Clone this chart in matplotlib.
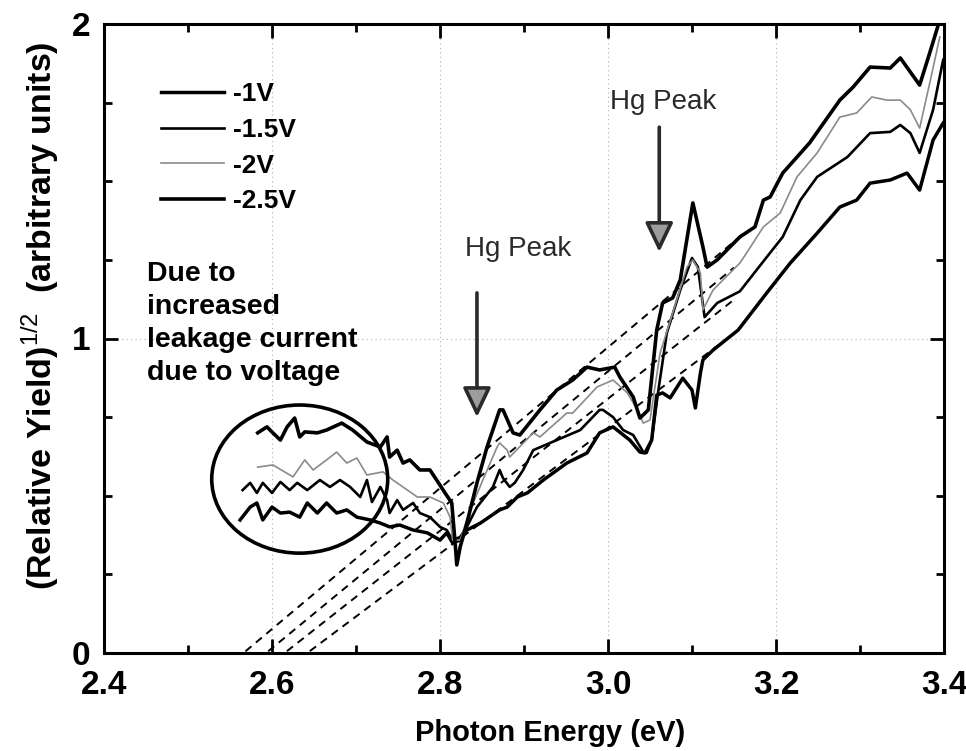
import matplotlib
matplotlib.use("Agg")
import numpy as np
import matplotlib.pyplot as plt
from matplotlib.patches import Ellipse
from matplotlib.lines import Line2D
from matplotlib.ticker import MultipleLocator, FormatStrFormatter

plt.rcParams['font.family'] = ['Liberation Sans', 'DejaVu Sans']
plt.rcParams['mathtext.fontset'] = 'custom'
plt.rcParams['mathtext.rm'] = 'Liberation Sans'
plt.rcParams['mathtext.bf'] = 'Liberation Sans:bold'

# ---- photoemission yield curves, (relative yield)^1/2 vs photon energy ----
e_m25 = [2.583, 2.594, 2.601, 2.610, 2.618, 2.627, 2.633, 2.639, 2.654, 2.665,
         2.683, 2.696, 2.713, 2.729, 2.737, 2.740, 2.749, 2.756, 2.764, 2.776,
         2.788, 2.796, 2.806, 2.814, 2.818, 2.820, 2.824, 2.832, 2.844, 2.856,
         2.871, 2.875, 2.887, 2.895, 2.919, 2.939, 2.958, 2.975, 2.990, 3.008,
         3.014, 3.030, 3.038, 3.048, 3.058, 3.065, 3.077, 3.086, 3.101, 3.113,
         3.118, 3.130, 3.157, 3.175, 3.185, 3.193, 3.208, 3.240, 3.276, 3.292,
         3.312, 3.336, 3.348, 3.360, 3.371, 3.383, 3.395]
y_m25 = [0.700, 0.719, 0.700, 0.677, 0.719, 0.747, 0.687, 0.703, 0.700, 0.709,
         0.731, 0.709, 0.671, 0.655, 0.687, 0.623, 0.645, 0.604, 0.614, 0.582,
         0.582, 0.550, 0.509, 0.477, 0.350, 0.280, 0.337, 0.413, 0.541, 0.655,
         0.773, 0.773, 0.700, 0.693, 0.773, 0.836, 0.868, 0.909, 0.900, 0.909,
         0.878, 0.814, 0.747, 0.773, 1.027, 1.113, 1.129, 1.186, 1.431, 1.291,
         1.227, 1.250, 1.323, 1.355, 1.440, 1.450, 1.526, 1.622, 1.758, 1.800,
         1.863, 1.860, 1.892, 1.847, 1.806, 1.908, 2.013]

e_m20 = [2.583, 2.601, 2.625, 2.639, 2.649, 2.665, 2.677, 2.689, 2.701, 2.713,
         2.732, 2.744, 2.773, 2.788, 2.804, 2.812, 2.815, 2.824, 2.836, 2.851,
         2.868, 2.871, 2.880, 2.883, 2.911, 2.919, 2.951, 2.958, 2.987, 3.006,
         3.023, 3.035, 3.042, 3.050, 3.062, 3.077, 3.094, 3.101, 3.110, 3.113,
         3.125, 3.157, 3.165, 3.185, 3.205, 3.225, 3.249, 3.276, 3.296, 3.314,
         3.332, 3.348, 3.360, 3.371, 3.383, 3.395]
y_m20 = [0.591, 0.598, 0.560, 0.614, 0.582, 0.614, 0.639, 0.604, 0.620, 0.566,
         0.576, 0.550, 0.496, 0.496, 0.477, 0.432, 0.359, 0.359, 0.455, 0.550,
         0.655, 0.668, 0.645, 0.623, 0.700, 0.687, 0.763, 0.763, 0.846, 0.868,
         0.827, 0.773, 0.731, 0.741, 0.954, 1.081, 1.227, 1.250, 1.208, 1.091,
         1.154, 1.240, 1.272, 1.355, 1.399, 1.514, 1.590, 1.704, 1.717, 1.768,
         1.758, 1.758, 1.727, 1.669, 1.812, 1.959]

e_m15 = [2.565, 2.574, 2.582, 2.589, 2.600, 2.610, 2.621, 2.630, 2.642, 2.657,
         2.669, 2.681, 2.693, 2.705, 2.713, 2.719, 2.729, 2.737, 2.740, 2.749,
         2.756, 2.768, 2.776, 2.788, 2.800, 2.808, 2.815, 2.824, 2.832, 2.844,
         2.863, 2.871, 2.875, 2.883, 2.889, 2.899, 2.911, 2.939, 2.967, 2.990,
         2.994, 3.006, 3.018, 3.030, 3.042, 3.046, 3.052, 3.060, 3.070, 3.086,
         3.100, 3.107, 3.115, 3.130, 3.157, 3.189, 3.208, 3.229, 3.249, 3.285,
         3.312, 3.336, 3.348, 3.360, 3.371, 3.387, 3.399]
y_m15 = [0.518, 0.541, 0.509, 0.541, 0.509, 0.544, 0.518, 0.541, 0.518, 0.550,
         0.528, 0.550, 0.528, 0.496, 0.550, 0.480, 0.528, 0.486, 0.445, 0.486,
         0.455, 0.477, 0.445, 0.432, 0.401, 0.391, 0.359, 0.369, 0.401, 0.464,
         0.528, 0.582, 0.556, 0.528, 0.541, 0.582, 0.645, 0.677, 0.709, 0.773,
         0.773, 0.750, 0.709, 0.693, 0.639, 0.636, 0.677, 0.836, 1.017, 1.154,
         1.256, 1.227, 1.068, 1.113, 1.150, 1.259, 1.323, 1.440, 1.514, 1.577,
         1.653, 1.657, 1.679, 1.653, 1.590, 1.727, 1.886]

e_m10 = [2.562, 2.574, 2.582, 2.589, 2.600, 2.610, 2.621, 2.633, 2.642, 2.654,
         2.665, 2.677, 2.689, 2.701, 2.717, 2.729, 2.740, 2.752, 2.768, 2.785,
         2.800, 2.808, 2.815, 2.824, 2.832, 2.848, 2.871, 2.880, 2.892, 2.904,
         2.923, 2.951, 2.975, 2.990, 3.006, 3.026, 3.038, 3.044, 3.052, 3.058,
         3.065, 3.074, 3.089, 3.100, 3.104, 3.110, 3.113, 3.125, 3.155, 3.189,
         3.217, 3.249, 3.276, 3.296, 3.312, 3.336, 3.356, 3.371, 3.387, 3.399]
y_m10 = [0.423, 0.464, 0.477, 0.423, 0.464, 0.445, 0.448, 0.432, 0.477, 0.445,
         0.477, 0.445, 0.455, 0.432, 0.423, 0.413, 0.401, 0.407, 0.391, 0.382,
         0.359, 0.382, 0.350, 0.359, 0.391, 0.413, 0.455, 0.464, 0.496, 0.509,
         0.550, 0.604, 0.636, 0.700, 0.719, 0.677, 0.639, 0.636, 0.677, 0.820,
         0.827, 0.811, 0.874, 0.836, 0.779, 0.890, 0.932, 0.963, 1.027, 1.145,
         1.240, 1.335, 1.418, 1.440, 1.494, 1.504, 1.526, 1.472, 1.631, 1.685]

# linear fits extrapolated to zero yield: threshold energy, slope, last energy
fit_x0 = [2.566, 2.593, 2.615, 2.642]
fit_slope = [2.24, 2.20, 2.10, 2.00]
fit_xend = [3.16, 3.15, 3.15, 3.15]

series_labels = ['-1V', '-1.5V', '-2V', '-2.5V']

fig = plt.figure(figsize=(9.66, 7.51), dpi=100)
ax = fig.add_axes([104 / 966, 1 - 653 / 751, 840 / 966, 629 / 751])

styles = {
    '-2.5V': dict(color='black', lw=2.6),
    '-2V': dict(color='#8a8a8a', lw=1.2),
    '-1.5V': dict(color='black', lw=1.9),
    '-1V': dict(color='black', lw=2.5),
}

ax.plot(e_m10, y_m10, **styles['-1V'], zorder=3)
ax.plot(e_m15, y_m15, **styles['-1.5V'], zorder=3)
ax.plot(e_m20, y_m20, **styles['-2V'], zorder=3)
ax.plot(e_m25, y_m25, **styles['-2.5V'], zorder=3)

for x0, k, x1 in zip(fit_x0, fit_slope, fit_xend):
    xs = np.array([x0 - 0.01, x1])
    ax.plot(xs, k * (xs - x0), color='black', lw=1.4, ls=(0, (4, 3)), zorder=2)

# legend
handles = [Line2D([], [], **styles[lab]) for lab in series_labels]
leg = ax.legend(handles, series_labels, loc='upper left',
                bbox_to_anchor=(0.055, 0.924), frameon=False,
                prop=dict(size=19, weight='bold'), handlelength=2.4,
                handletextpad=0.35, labelspacing=0.44, borderaxespad=0)

# annotations
ax.text(2.451, 1.248, "Due to\nincreased\nleakage current\ndue to voltage",
        fontsize=20.5, fontweight='bold', ha='left', va='top', linespacing=1.36)
ax.add_patch(Ellipse((2.633, 0.553), 0.2095, 0.471, fill=False,
                     lw=2.6, ec='black', zorder=4))

arrow_kw = dict(arrowstyle='-|>,head_length=18,head_width=8.6',
                mutation_scale=1, lw=2.6, ec='#2a2a2a', fc='#9c9c9c',
                shrinkA=0, shrinkB=0)
ax.annotate('', xy=(2.844, 0.750), xytext=(2.844, 1.145), arrowprops=arrow_kw)
ax.annotate('', xy=(3.061, 1.275), xytext=(3.061, 1.672), arrowprops=arrow_kw)
ax.text(2.893, 1.283, 'Hg Peak', fontsize=20, color='#2a2a2a',
        ha='center', va='center')
ax.text(3.066, 1.752, 'Hg Peak', fontsize=20, color='#2a2a2a',
        ha='center', va='center')

# axes
ax.set_xlim(2.4, 3.4)
ax.set_ylim(0, 2)
ax.xaxis.set_major_locator(MultipleLocator(0.2))
ax.xaxis.set_minor_locator(MultipleLocator(0.1))
ax.yaxis.set_major_locator(MultipleLocator(1))
ax.yaxis.set_minor_locator(MultipleLocator(0.25))
ax.xaxis.set_major_formatter(FormatStrFormatter('%.1f'))
ax.yaxis.set_major_formatter(FormatStrFormatter('%d'))
ax.grid(True, which='major', color='#b0b0b0', lw=0.8, ls=(0, (1, 3)))
ax.set_axisbelow(True)
for s in ax.spines.values():
    s.set_linewidth(2.2)
ax.tick_params(which='both', direction='in', top=True, right=True, width=2)
ax.tick_params(which='major', length=10)
ax.tick_params(which='minor', length=6)
ax.tick_params(axis='x', which='major', pad=12, labelsize=24)
ax.tick_params(axis='y', which='major', pad=10, labelsize=24)
for lab in ax.get_xticklabels() + ax.get_yticklabels():
    lab.set_fontweight('bold')

fig.text(550 / 966, 1 - 733 / 751, 'Photon Energy (eV)', fontsize=21,
         fontweight='bold', ha='center', va='center')
fig.text(40 / 966, 1 - 316 / 751,
         r'(Relative Yield)$^{\mathrm{1/2}}$  (arbitrary units)',
         fontsize=24.5, fontweight='bold', rotation=90, ha='center', va='center')

fig.savefig('out.png', dpi=100)
